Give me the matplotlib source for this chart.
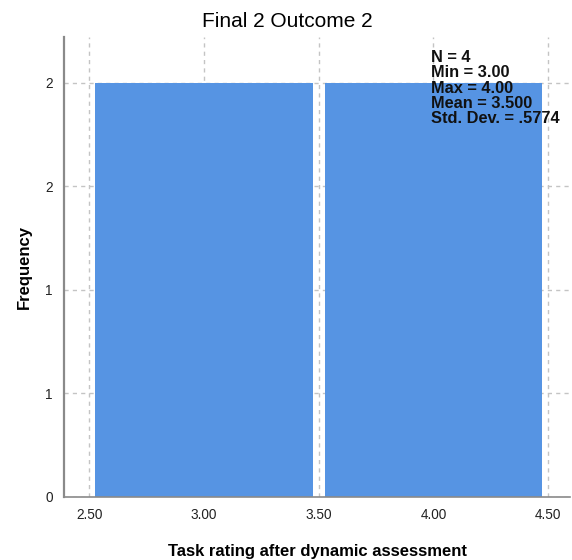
import matplotlib.pyplot as plt
import numpy as np

# histogram bins (midpoints) and counts
bin_mid = [3.0, 4.0]
counts = [2, 2]
xticks = [2.5, 3.0, 3.5, 4.0, 4.5]
xtick_labels = ['2.50', '3.00', '3.50', '4.00', '4.50']
yticks = [0, 0.5, 1.0, 1.5, 2.0]
ytick_labels = ['0', '1', '1', '2', '2']
stats = ['N = 4', 'Min = 3.00', 'Max = 4.00', 'Mean = 3.500', 'Std. Dev. = .5774']

plt.rcParams['font.family'] = ['Liberation Sans', 'DejaVu Sans']

fig = plt.figure(figsize=(5.72, 5.60), dpi=100)
ax = fig.add_axes([0.112, 0.1125, 0.885, 0.8215])

ax.bar(bin_mid, counts, width=0.947, color='#5694e3', zorder=2)

ax.set_xlim(2.391, 4.596)
ax.set_ylim(0, 2.222)
ax.set_xticks(xticks)
ax.set_xticklabels(xtick_labels)
ax.set_yticks(yticks)
ax.set_yticklabels(ytick_labels)
ax.tick_params(length=0, labelsize=9.8, colors='#222222', pad=8)

ax.grid(True, color='#c4c4c4', linestyle=(0, (3, 3)), linewidth=1, zorder=0)
ax.set_axisbelow(True)

for s in ['top', 'right']:
    ax.spines[s].set_visible(False)
ax.spines['left'].set_color('#8a8a8a')
ax.spines['left'].set_linewidth(1.6)
ax.spines['bottom'].set_color('#8a8a8a')
ax.spines['bottom'].set_linewidth(1.2)

fig.text(0.503, 0.962, 'Final 2 Outcome 2', ha='center', va='center', fontsize=15)
ax.set_xlabel('Task rating after dynamic assessment', fontsize=12, fontweight='bold', labelpad=16)
ax.set_ylabel('Frequency', fontsize=12, fontweight='bold', labelpad=10)

ax.text(0.7255, 0.972, '\n'.join(stats), transform=ax.transAxes, ha='left', va='top',
        fontsize=11.8, fontweight='bold', linespacing=1.03, color='#111111')

fig.savefig('out.png', dpi=100)
